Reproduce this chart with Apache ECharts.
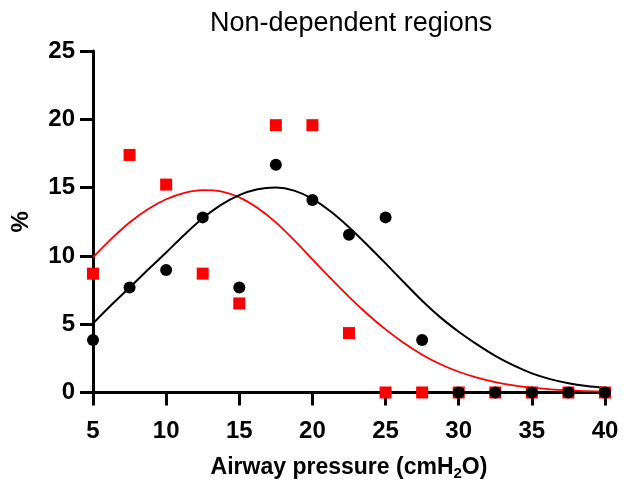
<!DOCTYPE html>
<html>
<head>
<meta charset="utf-8">
<script src="https://cdn.jsdelivr.net/npm/echarts@6/dist/echarts.min.js"></script>
<style>html,body{margin:0;padding:0;background:#fff}#c{width:628px;height:484px}</style>
</head>
<body>
<div id="c"></div>
<script>
// Airway pressure (cmH2O) of the measured points
const pressures = [5, 7.5, 10, 12.5, 15, 17.5, 20, 22.5, 25, 27.5, 30, 32.5, 35, 37.5, 40];
// Measured points (%)
const blackPoints = [3.85, 7.69, 8.97, 12.82, 7.69, 16.67, 14.10, 11.54, 12.82, 3.85, 0, 0, 0, 0, 0];
const redPoints = [8.70, 17.39, 15.22, 8.70, 6.52, 19.57, 19.57, 4.35, 0, 0, 0, 0, 0, 0, 0];
// Fitted curves, values (%)
const curveX = [5, 6.25, 7.5, 8.75, 10, 11.25, 12.5, 13.75, 15, 16.25, 17.5, 18.75, 20, 21.25, 22.5,
                23.75, 25, 26.25, 27.5, 28.75, 30, 31.25, 32.5, 33.75, 35, 36.25, 37.5, 38.75, 40];
const blackCurve = [5.05, 6.4, 7.68, 8.98, 10.25, 11.55, 12.75, 13.73, 14.45, 14.88, 15.0, 14.78, 14.18, 13.25, 12.1,
                    10.8, 9.45, 8.07, 6.72, 5.5, 4.45, 3.52, 2.68, 1.98, 1.4, 0.98, 0.68, 0.47, 0.33];
const redCurve = [9.9, 11.25, 12.45, 13.42, 14.15, 14.62, 14.82, 14.72, 14.28, 13.5, 12.45, 11.15, 9.75, 8.35, 7.0,
                  5.75, 4.62, 3.62, 2.77, 2.07, 1.52, 1.09, 0.76, 0.52, 0.35, 0.23, 0.15, 0.1, 0.06];
const xTicks = [5, 10, 15, 20, 25, 30, 35, 40];
const yTicks = [0, 5, 10, 15, 20, 25];

const pair = (xs, ys) => xs.map((x, i) => [x, ys[i]]);
const FONT = 'Liberation Sans, Arial, Helvetica, sans-serif';

const chart = echarts.init(document.getElementById('c'), null, {renderer: 'canvas'});
chart.setOption({
  animation: false,
  backgroundColor: '#fff',
  title: {
    text: 'Non-dependent regions',
    left: 205, top: 5,
    textStyle: {fontFamily: FONT, fontWeight: 'normal', fontSize: 27, color: '#000'}
  },
  grid: {left: 93, right: 23, top: 51, bottom: 91.5, containLabel: false, outerBoundsMode: 'none'},
  xAxis: {
    type: 'value', min: xTicks[0], max: xTicks[xTicks.length - 1], interval: 5,
    name: 'Airway pressure (cmH{sub|2}O)',
    nameLocation: 'middle', nameGap: 62,
    nameTextStyle: {
      fontFamily: FONT, fontWeight: 'bold', fontSize: 23, color: '#000',
      rich: {sub: {fontFamily: FONT, fontWeight: 'bold', fontSize: 15, color: '#000', padding: [12, 0, 0, 0]}}
    },
    axisLine: {onZero: false, lineStyle: {color: '#000', width: 3}},
    axisTick: {show: true, length: 13, lineStyle: {color: '#000', width: 3}},
    axisLabel: {fontFamily: FONT, fontWeight: 'bold', fontSize: 24, color: '#000', margin: 27},
    splitLine: {show: false}
  },
  yAxis: {
    type: 'value', min: yTicks[0], max: yTicks[yTicks.length - 1], interval: 5,
    name: '%', nameLocation: 'middle', nameGap: 60, nameRotate: 90,
    nameTextStyle: {fontFamily: FONT, fontWeight: 'bold', fontSize: 24, color: '#000'},
    axisLine: {onZero: false, lineStyle: {color: '#000', width: 3}},
    axisTick: {show: true, length: 13, lineStyle: {color: '#000', width: 3}},
    axisLabel: {fontFamily: FONT, fontWeight: 'bold', fontSize: 24, color: '#000', margin: 18},
    splitLine: {show: false}
  },
  series: [
    {type: 'line', data: pair(curveX, redCurve), smooth: 0.3, symbol: 'none',
     lineStyle: {color: '#ff0000', width: 1.8}, z: 2},
    {type: 'line', data: pair(curveX, blackCurve), smooth: 0.3, symbol: 'none',
     lineStyle: {color: '#000', width: 2}, z: 2},
    {type: 'scatter', data: pair(pressures, redPoints), symbol: 'rect', symbolSize: 12,
     itemStyle: {color: '#ff0000', opacity: 1}, z: 3},
    {type: 'scatter', data: pair(pressures, blackPoints), symbol: 'circle', symbolSize: 12,
     itemStyle: {color: '#000', opacity: 1}, z: 4}
  ]
});
</script>
</body>
</html>
